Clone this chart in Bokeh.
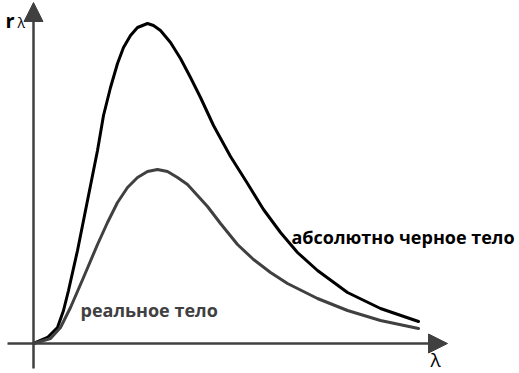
from bokeh.plotting import figure
from bokeh.models import Arrow, NormalHead, Range1d
from bokeh.core.properties import value
from bokeh.embed import file_html
from bokeh.resources import INLINE

# Wavelength (arbitrary units) and spectral emissivity (arbitrary units)
black_lam = [0, 14, 24, 30, 35, 44, 54, 64, 70, 77, 84, 90, 97, 104, 114, 120, 127, 137, 147,
             157, 167, 180, 197, 214, 230, 247, 264, 284, 314, 347, 385]
black_r = [0, 6, 16, 33, 53, 93, 143, 193, 228, 256, 280, 296, 308, 316, 320, 318, 313, 301, 285,
           266, 246, 218, 187, 160, 134, 111, 91, 73, 51, 35, 22]

real_lam = [0, 17, 27, 37, 50, 64, 74, 84, 94, 104, 114, 124, 134, 144, 154, 164, 174, 187,
            204, 220, 237, 254, 284, 314, 347, 385]
real_r = [0, 5, 16, 36, 66, 99, 121, 141, 156, 166, 172, 174, 172, 166, 159, 148, 137, 120,
          99, 84, 71, 60, 45, 33, 23, 15]

label_black = "абсолютно черное тело"
label_real = "реальное тело"
axis_y_label = "r"
axis_sub = "λ"
axis_x_label = "λ"

W, H = 519, 373
p = figure(width=W, height=H, output_backend="svg", toolbar_location=None,
           x_range=Range1d(-33, W - 33), y_range=Range1d(343 - H, 343),
           min_border=0, outline_line_color=None)
p.axis.visible = False
p.grid.visible = False
p.background_fill_color = "white"
p.border_fill_color = "white"

axc = "#404040"
# axes with arrows
p.add_layout(Arrow(x_start=-26, y_start=0, x_end=414, y_end=0,
                   line_color=axc, line_width=2.5,
                   end=NormalHead(size=19, fill_color=axc, line_color=axc)))
p.add_layout(Arrow(x_start=0, y_start=-25, x_end=0, y_end=341,
                   line_color=axc, line_width=2.5,
                   end=NormalHead(size=19, fill_color=axc, line_color=axc)))

p.line(black_lam, black_r, line_color="black", line_width=3, line_join="round", line_cap="round")
p.line(real_lam, real_r, line_color=axc, line_width=3, line_join="round", line_cap="round")

font = value("Open Sans")
p.text(x=[258], y=[107], text=[label_black], text_font=font, text_font_size="18px",
       text_font_style="bold", text_color="black", text_baseline="alphabetic", text_align="left")
p.text(x=[47], y=[34], text=[label_real], text_font=font, text_font_size="18px",
       text_font_style="bold", text_color=axc, text_baseline="alphabetic", text_align="left")
p.text(x=[-28], y=[323], text=[axis_y_label], text_font=font, text_font_size="20px",
       text_font_style="bold", text_color="black", text_baseline="alphabetic", text_align="left")
p.text(x=[-16], y=[321], text=[axis_sub], text_font=font, text_font_size="14px",
       text_color="black", text_baseline="alphabetic", text_align="left")
p.text(x=[397], y=[-29.8], text=[axis_x_label], text_font=font, text_font_size="19px",
       text_color="black", text_baseline="bottom", text_align="left")

open("out.html", "w").write(file_html(p, INLINE))
